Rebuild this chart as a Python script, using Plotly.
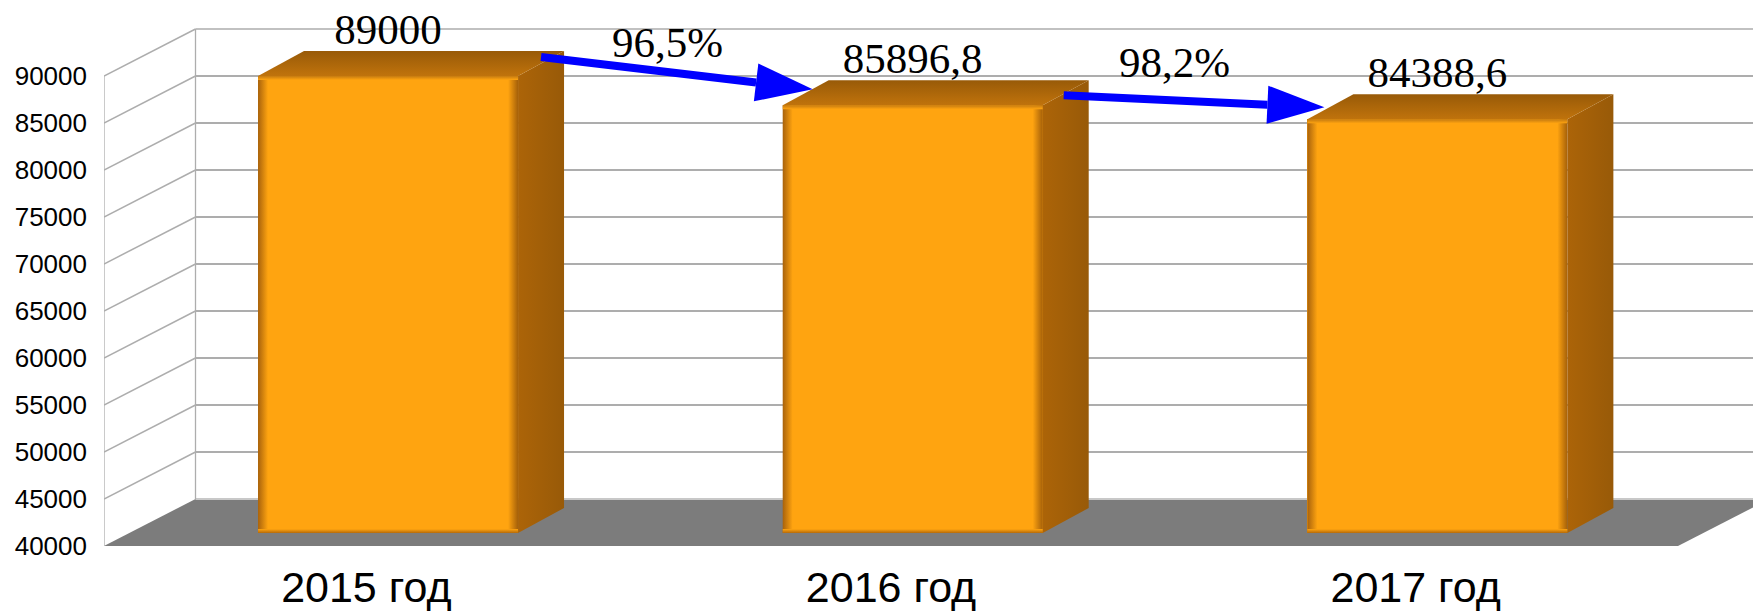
import plotly.graph_objects as go

categories = ["2015 год", "2016 год", "2017 год"]
values = [89000, 85896.8, 84388.6]
value_labels = ["89000", "85896,8", "84388,6"]
y_ticks = [40000, 45000, 50000, 55000, 60000, 65000, 70000, 75000, 80000, 85000, 90000]
pct_labels = ["96,5%", "98,2%"]

W, H = 1753, 612
PX_L, PX_B = 104, 546          # front-left corner of the floor, in page pixels
BAND = 524.67                  # pixels per category
VPX = 0.0094                   # pixels per value unit
xpx = lambda px: px / BAND     # pixel length -> x units
ypx = lambda px: px / VPX      # pixel length -> y units

x_min, x_max = -0.5, -0.5 + xpx(W - PX_L)
y_min, y_max = 40000, 40000 + ypx(PX_B)
back_dx, back_dy = xpx(91.5), 5000        # wall depth
bar_w = xpx(260)
bar_off = xpx(21.7)                       # bar sits behind the front edge
bar_lift = 1000
bar_base = 40000 + ypx(13)
dep_x, dep_y = xpx(46), ypx(25)           # bar depth
GRID = "#ADADAD"

shapes = []
# floor
x_bk = x_min + back_dx
floor_path = (f"M {x_min},{y_ticks[0]} L {x_bk},{y_ticks[1]} L {2.5 + back_dx},{y_ticks[1]} "
              f"L 2.5,{y_ticks[0]} Z")
shapes.append(dict(type="path", path=floor_path, xref="x", yref="y", layer="below",
                   fillcolor="#7C7C7C", line=dict(width=0)))
# walls and grid lines
for t in y_ticks:
    back = t + back_dy
    if t > y_ticks[0]:
        shapes.append(dict(type="line", xref="x", yref="y", layer="below", x0=x_min, y0=t,
                           x1=x_bk, y1=back, line=dict(color=GRID, width=1.5)))
    shapes.append(dict(type="line", xref="x", yref="y", layer="below", x0=x_bk, y0=back,
                       x1=x_max, y1=back,
                       line=dict(color="#C8C8C8" if t == y_ticks[0] else GRID,
                                 width=1.3 if t == y_ticks[-1] else 2)))
shapes.append(dict(type="line", xref="x", yref="y", layer="below", x0=x_min, y0=y_ticks[0],
                   x1=x_min, y1=y_ticks[-1], line=dict(color=GRID, width=1.3)))
shapes.append(dict(type="line", xref="x", yref="y", layer="below", x0=x_bk, y0=y_ticks[1],
                   x1=x_bk, y1=y_ticks[-1] + back_dy, line=dict(color=GRID, width=1.3)))

fig = go.Figure()
xc = [i + bar_off for i in range(len(values))]
tops = [v + bar_lift for v in values]

fig.add_bar(x=xc, y=[t - bar_base for t in tops], base=bar_base, width=bar_w,
            marker=dict(color="#FFA410", line=dict(width=0)), showlegend=False, hoverinfo="skip")


def face(xs, ys, kind, c0, c1):
    fig.add_scatter(x=xs + xs[:1], y=ys + ys[:1], mode="lines", line=dict(width=0), fill="toself",
                    fillgradient=dict(type=kind, colorscale=[[0, c0], [1, c1]]),
                    showlegend=False, hoverinfo="skip")


for c, t in zip(xc, tops):
    l, r = c - bar_w / 2, c + bar_w / 2
    # right side face
    face([r, r + dep_x, r + dep_x, r], [t, t + dep_y, bar_base + dep_y, bar_base],
         "horizontal", "#AC6408", "#985A08")
    # top face
    face([l, l + dep_x, r + dep_x, r], [t, t + dep_y, t + dep_y, t],
         "vertical", "#C0730C", "#985A08")
    # bevels of the front face
    bl, bt = xpx(10), ypx(4)
    face([l, l + bl, l + bl, l], [bar_base, bar_base, t, t], "horizontal", "#A8620C", "#FFA410")
    face([r - bl, r, r, r - bl], [bar_base, bar_base, t, t], "horizontal", "#FFA410", "#A56009")
    face([l, r, r, l], [t - bt, t - bt, t, t], "vertical", "#FFA410", "#C57A10")
    face([l, r, r, l], [bar_base, bar_base, bar_base + bt, bar_base + bt], "vertical", "#B56A0A", "#FFA410")

# value labels
fig.add_scatter(x=xc, y=[t + ypx(43) for t in tops], mode="text", text=value_labels,
                textposition="middle center",
                textfont=dict(family="Liberation Serif", size=43, color="black"),
                showlegend=False, hoverinfo="skip")

# growth arrows, anchored to the bars: (dx, dy) in pixels from a bar's top corner
ARROW = "#0000FF"
arrow_anchor = [((23, 19), (30, 16)), ((21, 10), (17, 12))]
annotations = []
pct_offset = [(xpx(149), ypx(34)), (xpx(132), ypx(43))]
for i, ((a, b), lab, off) in enumerate(zip(arrow_anchor, pct_labels, pct_offset)):
    x0 = xc[i] + bar_w / 2 + xpx(a[0])
    y0 = tops[i] + ypx(a[1])
    x1 = xc[i + 1] - bar_w / 2 + xpx(b[0])
    y1 = tops[i + 1] + ypx(b[1])
    # direction in pixels
    dxp, dyp = (x1 - x0) * BAND, (y1 - y0) * VPX
    n = (dxp ** 2 + dyp ** 2) ** 0.5
    ux, uy = dxp / n, dyp / n
    hl, hw = 57, 19
    bx, by = x1 - xpx(ux * hl), y1 - ypx(uy * hl)
    fig.add_scatter(x=[x0, bx], y=[y0, by], mode="lines", line=dict(color=ARROW, width=8),
                    showlegend=False, hoverinfo="skip")
    fig.add_scatter(x=[bx - xpx(uy * hw), x1, bx + xpx(uy * hw), bx - xpx(uy * hw)],
                    y=[by + ypx(ux * hw), y1, by - ypx(ux * hw), by + ypx(ux * hw)],
                    mode="lines", line=dict(width=0), fill="toself", fillcolor=ARROW,
                    showlegend=False, hoverinfo="skip")
    annotations.append(dict(x=xc[i] + bar_w / 2 + off[0], y=tops[i] + off[1], xref="x", yref="y",
                            text=lab, showarrow=False, xanchor="center", yanchor="middle",
                            font=dict(family="Liberation Serif", size=43, color="black")))

fig.update_layout(
    width=W, height=H, autosize=False,
    margin=dict(l=PX_L, r=0, t=0, b=H - PX_B, pad=0),
    paper_bgcolor="white", plot_bgcolor="white",
    shapes=shapes, annotations=annotations, bargap=0,
    xaxis=dict(range=[x_min, x_max], tickvals=[0, 1, 2], ticktext=categories, showgrid=False,
               zeroline=False, showline=False, ticks="", ticklabelstandoff=12,
               tickfont=dict(family="Liberation Sans", size=43, color="black"), automargin=False),
    yaxis=dict(range=[y_min, y_max], tickvals=y_ticks, tickformat="d", showgrid=False,
               zeroline=False, showline=False, ticks="", ticklabelstandoff=16,
               tickfont=dict(family="Liberation Sans", size=26, color="black"), automargin=False),
)
fig.write_html("out.html", config=dict(displayModeBar=False),
               post_script="document.body.style.margin='0';document.documentElement.style.overflow='hidden';")
